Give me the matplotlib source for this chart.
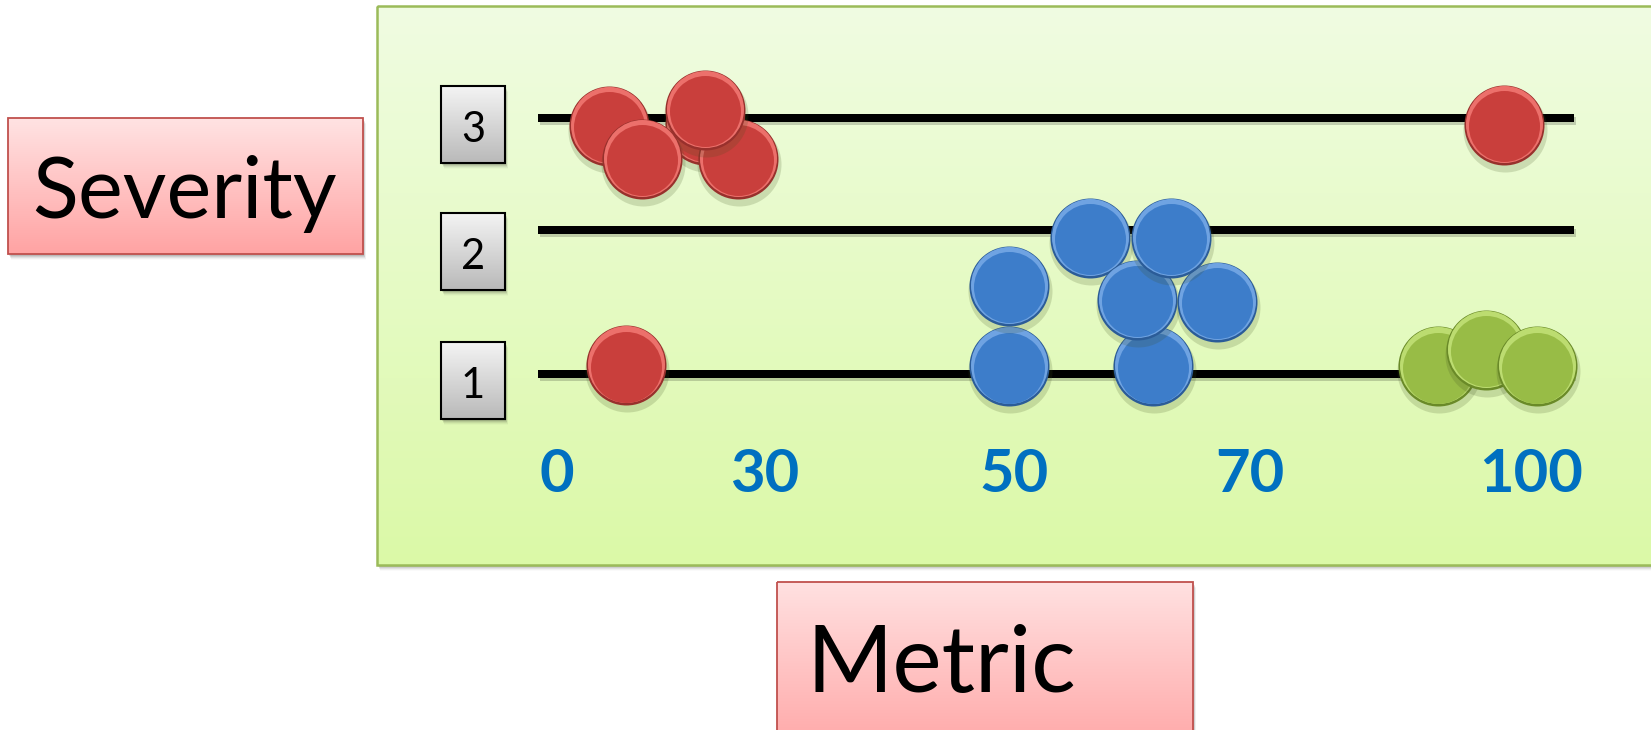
import numpy as np
import matplotlib
matplotlib.use("Agg")
import matplotlib.pyplot as plt
from matplotlib.patches import Rectangle
from matplotlib.transforms import ScaledTranslation, blended_transform_factory

# ---- data -------------------------------------------------------------
severity_levels = [1, 2, 3]
tick_values = [0, 30, 50, 70, 100]

red_metric = [7.5, 21.4, 26.1, 21.4, 12.3, 97.1, 10.0]
red_severity = [2.93, 2.94, 2.634, 3.071, 2.634, 2.94, 1.056]

blue_metric = [49.6, 61.8, 56.4, 49.6, 60.4, 67.2, 63.3]
blue_severity = [1.049, 1.049, 1.944, 1.611, 1.514, 1.5, 1.944]

green_metric = [90.1, 95.2, 100.6]
green_severity = [1.049, 1.167, 1.049]

rail_range = (-2.7, 104.6)

# ---- layout (figure pixels) ---------------------------------------------
W, H, DPI = 1651, 730, 100
TICK_PX = [557, 765, 1014, 1250, 1531]
LEVEL_PX = [373.5, 230, 118]


def piecewise(k_in, k_out):
    ki = np.asarray(k_in, float)
    ko = np.asarray(k_out, float)

    def f(v):
        v = np.asarray(v, float)
        out = np.interp(v, ki, ko)
        lo_slope = (ko[1] - ko[0]) / (ki[1] - ki[0])
        hi_slope = (ko[-1] - ko[-2]) / (ki[-1] - ki[-2])
        out = np.where(v < ki[0], ko[0] + (v - ki[0]) * lo_slope, out)
        out = np.where(v > ki[-1], ko[-1] + (v - ki[-1]) * hi_slope, out)
        return out
    return f


fig = plt.figure(figsize=(W / DPI, H / DPI), dpi=DPI)
fig.patch.set_facecolor("white")

bg = fig.add_axes([0, 0, 1, 1])
bg.set_xlim(0, W)
bg.set_ylim(H, 0)
bg.axis("off")


def gradient_box(x0, y0, x1, y1, top, bottom, edge, lw, z, shadow=True):
    if shadow:
        for i, a in enumerate([0.10, 0.08, 0.06, 0.04, 0.02]):
            bg.add_patch(Rectangle((x0 + 1 + i * 0.6, y0 + 2 + i), x1 - x0, y1 - y0,
                                   facecolor="black", edgecolor="none",
                                   alpha=a, zorder=z - 0.5))
    c0 = np.array(matplotlib.colors.to_rgb(top))
    c1 = np.array(matplotlib.colors.to_rgb(bottom))
    t = np.linspace(0, 1, 256)[:, None]
    img = (c0 * (1 - t) + c1 * t)[:, None, :]
    im = bg.imshow(img, extent=(x0, x1, y1, y0), aspect="auto",
                   interpolation="bilinear", zorder=z)
    rect = Rectangle((x0, y0), x1 - x0, y1 - y0, facecolor="none",
                     edgecolor=edge, linewidth=lw, zorder=z + 0.1)
    bg.add_patch(rect)
    im.set_clip_path(rect)


# panel
gradient_box(377, 6, 1720, 565, "#f0fce2", "#dbf9a7", "#9bbb59", 1.8, 1)
# axis title boxes
gradient_box(8, 118, 363, 254, "#ffe3e3", "#ffa3a3", "#c0504d", 1.3, 2)
gradient_box(777, 582, 1193, 745, "#ffe1e1", "#ffa9a9", "#c0504d", 1.3, 2)

txt_font = ["Lato", "DejaVu Sans"]
bg.text(185, 218, "Severity", fontsize=61, family=txt_font, ha="center",
        va="baseline", color="black", zorder=5)
bg.text(941, 692, "Metric", fontsize=67, family=txt_font, ha="center",
        va="baseline", color="black", zorder=5)

# level boxes
box_tops = [342, 213, 86]
for lvl, top in zip(severity_levels, box_tops):
    gradient_box(441, top, 505, top + 77, "#f4f4f4", "#b9b9b9", "black", 1.5, 3)
    bg.text(473, top + 56, str(lvl), fontsize=30, family=txt_font,
            ha="center", va="baseline", color="black", zorder=5)

# ---- data axes -------------------------------------------------------------
ax = fig.add_axes([0, 0, 1, 1])
ax.patch.set_alpha(0)
fx, fx_inv = piecewise(tick_values, TICK_PX), piecewise(TICK_PX, tick_values)
neg_px = [-p for p in LEVEL_PX]
fy, fy_inv = piecewise(severity_levels, neg_px), piecewise(neg_px, severity_levels)
ax.set_xscale("function", functions=(fx, fx_inv))
ax.set_yscale("function", functions=(fy, fy_inv))
ax.set_xlim(float(fx_inv(0)), float(fx_inv(W)))
ax.set_ylim(float(fy_inv(-H)), float(fy_inv(0)))
ax.axis("off")


def shifted(dx_px, dy_px):
    return ax.transData + ScaledTranslation(dx_px / DPI, dy_px / DPI, fig.dpi_scale_trans)


# rails
line_w = 8 * 72 / DPI
ax.hlines(severity_levels, *rail_range, colors="#000000", linewidth=line_w,
          alpha=0.18, transform=shifted(2, -3), zorder=9)
ax.hlines(severity_levels, *rail_range, colors="black", linewidth=line_w, zorder=10)

# tick labels
tick_tr = blended_transform_factory(ax.transData, bg.transData)
for v in tick_values:
    ax.text(v, 492, str(v), transform=tick_tr, fontsize=43, fontweight="bold",
            family=txt_font, color="#0070c0", ha="center", va="baseline", zorder=12)

palettes = {
    "red": ("#98302c", "#ec706b", "#c93f3c"),
    "blue": ("#2b5c98", "#6fa3e2", "#3d7dca"),
    "green": ("#6a8a28", "#bcdc70", "#98bc46"),
}


def size(r_px):
    return (2 * r_px * 72 / DPI) ** 2


z = 20
for name, xs, ys in [("red", red_metric, red_severity),
                     ("blue", blue_metric, blue_severity),
                     ("green", green_metric, green_severity)]:
    rim, light, body = palettes[name]
    for x, y in zip(xs, ys):
        ax.scatter([x], [y], s=size(42), color="#405020", alpha=0.18,
                   linewidths=0, transform=shifted(1, -5), zorder=z)
        ax.scatter([x], [y], s=size(40), color=rim, linewidths=0, zorder=z + 1)
        ax.scatter([x], [y], s=size(38.5), color=light, linewidths=0,
                   transform=shifted(0, 1), zorder=z + 2)
        ax.scatter([x], [y], s=size(35.5), color=body, linewidths=0,
                   transform=shifted(0, -1.2), zorder=z + 3)
        z += 4

fig.savefig("out.png", dpi=DPI, facecolor="white")
